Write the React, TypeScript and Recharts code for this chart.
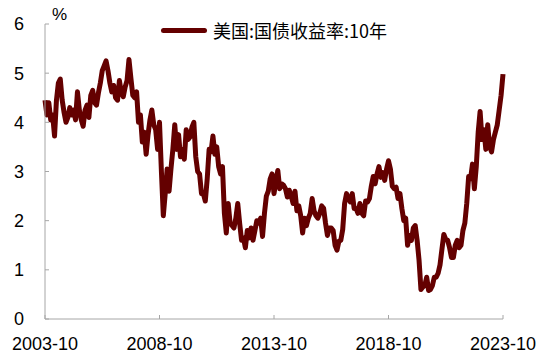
import React from "react";
import { LineChart, Line, XAxis, YAxis } from "recharts";

// US 10Y treasury yield, monthly readings, 2003-10 .. 2023-10
const y2003 = [4.45, 4.15, 4.4];
const y2004 = [4.05, 4.15, 3.72, 4.45, 4.8, 4.88, 4.45, 4.2, 4.0, 4.1, 4.3, 4.15];
const y2005 = [4.25, 4.05, 4.62, 4.25, 4.05, 3.92, 4.25, 4.35, 4.1, 4.55, 4.65, 4.4];
const y2006 = [4.35, 4.6, 4.8, 5.05, 5.15, 5.25, 5.05, 4.8, 4.62, 4.75, 4.5, 4.45];
const y2007 = [4.85, 4.6, 4.52, 4.72, 4.85, 5.28, 4.9, 4.55, 4.5, 4.62, 4.0, 4.15];
const y2008 = [3.6, 3.8, 3.35, 3.75, 4.05, 4.25, 3.95, 3.85, 3.45, 4.0, 3.0, 2.1];
const y2009 = [2.55, 3.05, 2.6, 3.05, 3.45, 3.95, 3.45, 3.75, 3.3, 3.45, 3.25, 3.85];
const y2010 = [3.65, 3.7, 3.9, 4.0, 3.3, 3.0, 2.95, 2.55, 2.55, 2.4, 2.85, 3.45];
const y2011 = [3.4, 3.72, 3.35, 3.5, 3.1, 2.95, 3.1, 2.15, 1.75, 2.35, 1.95, 1.9];
const y2012 = [1.85, 2.05, 2.35, 1.95, 1.6, 1.65, 1.45, 1.8, 1.65, 1.85, 1.6, 1.8];
const y2013 = [2.0, 1.95, 2.05, 1.68, 2.15, 2.5, 2.6, 2.85, 2.95, 2.55, 2.8, 3.02];
const y2014 = [2.65, 2.75, 2.72, 2.65, 2.48, 2.62, 2.5, 2.35, 2.6, 2.2, 2.3, 2.1];
const y2015 = [1.75, 2.05, 1.9, 2.05, 2.15, 2.45, 2.2, 2.1, 2.05, 2.15, 2.3, 2.25];
const y2016 = [1.95, 1.7, 1.85, 1.85, 1.8, 1.5, 1.4, 1.58, 1.6, 1.82, 2.35, 2.55];
const y2017 = [2.45, 2.38, 2.55, 2.25, 2.25, 2.15, 2.35, 2.15, 2.1, 2.4, 2.38, 2.45];
const y2018 = [2.7, 2.9, 2.75, 2.95, 3.1, 2.88, 2.98, 2.82, 3.05, 3.22, 3.05, 2.7];
const y2019 = [2.65, 2.68, 2.45, 2.55, 2.25, 2.0, 2.05, 1.5, 1.7, 1.6, 1.85, 1.9];
const y2020 = [1.6, 1.2, 0.6, 0.65, 0.68, 0.85, 0.58, 0.6, 0.68, 0.85, 0.85, 0.93];
const y2021 = [1.1, 1.42, 1.72, 1.62, 1.6, 1.45, 1.25, 1.25, 1.5, 1.6, 1.45, 1.5];
const y2022 = [1.8, 1.95, 2.35, 2.9, 2.85, 3.15, 2.65, 3.1, 3.8, 4.22, 3.65, 3.85];
const y2023 = [3.45, 3.95, 3.5, 3.4, 3.65, 3.8, 3.95, 4.25, 4.55, 4.98];

const xTickIdx = [0, 60, 120, 180, 240];
const xTickLabels = ["2003-10", "2008-10", "2013-10", "2018-10", "2023-10"];
const yTicks = [0, 1, 2, 3, 4, 5, 6];
const seriesName = "美国:国债收益率:10年";

const values = [
  ...y2003, ...y2004, ...y2005, ...y2006, ...y2007, ...y2008, ...y2009,
  ...y2010, ...y2011, ...y2012, ...y2013, ...y2014, ...y2015, ...y2016,
  ...y2017, ...y2018, ...y2019, ...y2020, ...y2021, ...y2022, ...y2023,
];

const data = values.map((v, i) => ({ idx: i, yield: v }));

const LINE = "#640000";
const AXIS = "#a6a6a6";
const FONT = "Arial, 'Liberation Sans', 'Noto Sans CJK SC', sans-serif";

export default function App() {
  return (
    <div style={{ position: "absolute", left: 0, top: 0, width: 550, height: 356, background: "#fff" }}>
      <LineChart width={550} height={356} data={data} margin={{ top: 24, right: 47, bottom: 7, left: 0 }}>
        <XAxis
          dataKey="idx"
          type="number"
          domain={[0, 240]}
          ticks={xTickIdx}
          tickFormatter={(v) => xTickLabels[xTickIdx.indexOf(v)] ?? ""}
          stroke={AXIS}
          height={30}
          tickSize={-4}
          tickMargin={22}
          tick={{ fill: "#000", fontSize: 18, fontFamily: FONT }}
          interval={0}
        />
        <YAxis
          domain={[0, 6]}
          ticks={yTicks}
          width={45}
          stroke={AXIS}
          tickSize={-4}
          tickMargin={25}
          tick={{ fill: "#000", fontSize: 18, fontFamily: FONT }}
          interval={0}
        />
        <Line
          type="linear"
          dataKey="yield"
          name={seriesName}
          stroke={LINE}
          strokeWidth={5}
          strokeLinejoin="round"
          dot={false}
          isAnimationActive={false}
        />
      </LineChart>
      <div style={{ position: "absolute", left: 52, top: 5, fontSize: 17, fontFamily: FONT, color: "#000" }}>
        %
      </div>
      <div style={{ position: "absolute", left: 161, top: 18, display: "flex", alignItems: "center" }}>
        <div style={{ width: 46, height: 5, background: LINE, borderRadius: 2.5, marginRight: 6 }} />
        <span style={{ fontSize: 18, lineHeight: "24px", color: "#000", fontFamily: "'Noto Sans CJK SC', sans-serif" }}>
          {seriesName}
        </span>
      </div>
    </div>
  );
}
